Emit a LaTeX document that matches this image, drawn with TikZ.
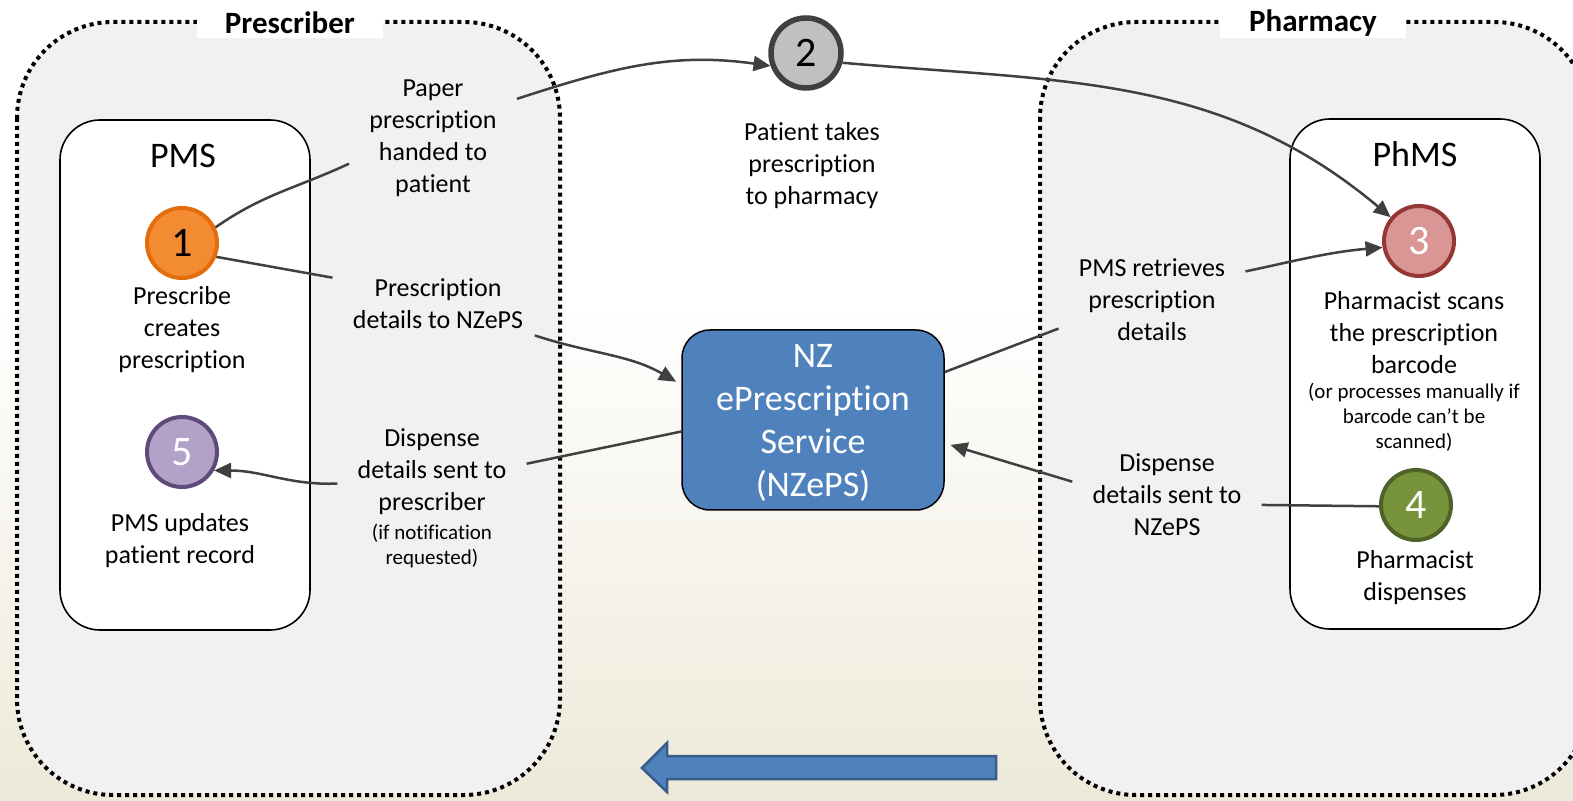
\documentclass[tikz,border=0pt]{standalone}
\usepackage{fontspec}
\setmainfont[Ligatures=NoCommon]{Carlito}
\usetikzlibrary{positioning,arrows.meta}

\definecolor{zonegrey}{HTML}{F1F1F1}
\definecolor{linkgrey}{HTML}{404040}
\definecolor{bgbeige}{HTML}{EDE9D9}
\definecolor{nzblue}{HTML}{4F81BD}
\definecolor{nzline}{HTML}{385D8A}
\definecolor{orangefill}{HTML}{F38B32}
\definecolor{orangeline}{HTML}{E46C0A}
\definecolor{greyfill}{HTML}{C0C0C0}
\definecolor{redfill}{HTML}{D99694}
\definecolor{redline}{HTML}{953735}
\definecolor{greenfill}{HTML}{77933C}
\definecolor{greenline}{HTML}{4F6228}
\definecolor{purplefill}{HTML}{B3A2C7}
\definecolor{purpleline}{HTML}{604A7B}

\tikzset{
  zone/.style={fill=zonegrey, line width=2pt, dash pattern=on 2pt off 2pt, rounded corners=48pt},
  zonetitle/.style={fill=white, minimum width=93pt, minimum height=15pt, inner sep=0pt, font=\bfseries\fontsize{15.5}{16}\selectfont},
  sysbox/.style={draw, fill=white, line width=0.8pt, rounded corners=20pt, minimum width=125pt, minimum height=255pt},
  systitle/.style={font=\fontsize{18}{20}\selectfont},
  nzbox/.style={draw=black, fill=nzblue, text=white, line width=0.75pt, rounded corners=14pt, minimum width=131pt, minimum height=90pt, inner sep=0pt, align=center, font=\fontsize{18}{21.5}\selectfont},
  stepdot/.style={circle, minimum size=35pt, inner sep=0pt, line width=2pt, font=\fontsize{21}{21}\selectfont},
  lbl/.style={align=center, font=\fontsize{13}{16}\selectfont, inner xsep=10pt, inner ysep=3pt},
  note/.style={align=center, font=\fontsize{10.5}{12.5}\selectfont, inner sep=1pt},
  link/.style={draw=linkgrey, line width=1.25pt},
  flow/.style={link, -{Triangle[length=8.5pt,width=7.5pt]}},
}

\begin{document}
\begin{tikzpicture}[x=0.5pt, y=-0.5pt]
  \useasboundingbox (0,0) rectangle (1573,801);
  \clip (0,0) rectangle (1573,801);
  \fill[white] (0,0) rectangle (1573,801);
  \shade[top color=white, bottom color=bgbeige] (0,300) rectangle (1573,801);

  % prescriber and pharmacy sides
  \draw[zone] (17,22) rectangle (560,795);
  \draw[zone] (1040,22) rectangle (1590,795);
  \node[zonetitle] (prescriber) at (290,23) {Prescriber};
  \node[zonetitle] (pharmacy) at (1313,23) {Pharmacy};

  \node[sysbox] (pms) at (185,375) {};
  \node[sysbox] (phms) at (1415,374) {};
  \node[systitle] (pmsname) at (183,156) {PMS};
  \node[systitle] (phmsname) at (1415,154) {PhMS};

  \node[nzbox, text depth=-2pt] (nz) at (813,420) {NZ\\ePrescription\\Service\\(NZePS)};

  % steps
  \node[stepdot, fill=orangefill, draw=orangeline] (s1) at (182,243) {1};
  \node[stepdot, fill=greyfill, draw=linkgrey, line width=2.75pt] (s2) at (806,53) {2};
  \node[stepdot, fill=redfill, draw=redline, text=white] (s3) at (1419,241) {3};
  \node[stepdot, fill=greenfill, draw=greenline, text=white] (s4) at (1416,505) {4};
  \node[stepdot, fill=purplefill, draw=purpleline, text=white] (s5) at (182,452) {5};

  \node[lbl] (s1text) at (182,330) {Prescribe\\creates\\prescription};
  \node[lbl] (s2text) at (812,166) {Patient takes\\prescription\\to pharmacy};
  \node[lbl] (s3text) at (1414,333) {Pharmacist scans\\the prescription\\barcode};
  \node[note, below=0pt of s3text] (s3note) {(or processes manually if\\barcode can’t be\\scanned)};
  \node[lbl] (s4text) at (1415,578) {Pharmacist\\dispenses};
  \node[lbl] (s5text) at (180,541) {PMS updates\\patient record};

  % messages
  \node[lbl] (paper) at (433,138) {Paper\\prescription\\handed to\\patient};
  \node[lbl] (presc) at (438,304) {Prescription\\details to NZePS};
  \node[lbl] (disp1) at (432,472) {Dispense\\details sent to\\prescriber};
  \node[note, below=0pt of disp1] (disp1note) {(if notification\\requested)};
  \node[lbl] (retr) at (1152,300) {PMS retrieves\\prescription\\details};
  \node[lbl] (disp2) at (1167,495) {Dispense\\details sent to\\NZePS};

  \draw[link] (s1.25) to[out=35,in=205] (paper.197);
  \draw[flow] (paper.25) to[out=18,in=172] (s2.200);
  \draw[flow] (s2.345) to[out=-5,in=140] (s3.140);
  \draw[link] (s1.338) -- (presc.166);
  \draw[flow, shorten >=3pt] (presc.342) to[out=-18,in=150] (nz.165);
  \draw[link] (nz.185) -- (disp1.5);
  \draw[flow] (disp1.187) to[out=182,in=0] (s5.330);
  \draw[link] (nz.20) -- (retr.197);
  \draw[flow] (retr.17) to[out=12,in=185] (s3.190);
  \draw[link] (s4.182) -- (disp2.354);
  \draw[flow, shorten >=3pt] (disp2.172) -- (nz.350);

  % big arrow at the bottom
  \draw[fill=nzblue, draw=nzline, line width=1.25pt] (996,756) -- (667,756) -- (667,743) -- (642,768) -- (667,792) -- (667,779) -- (996,779) -- cycle;
\end{tikzpicture}
\end{document}
